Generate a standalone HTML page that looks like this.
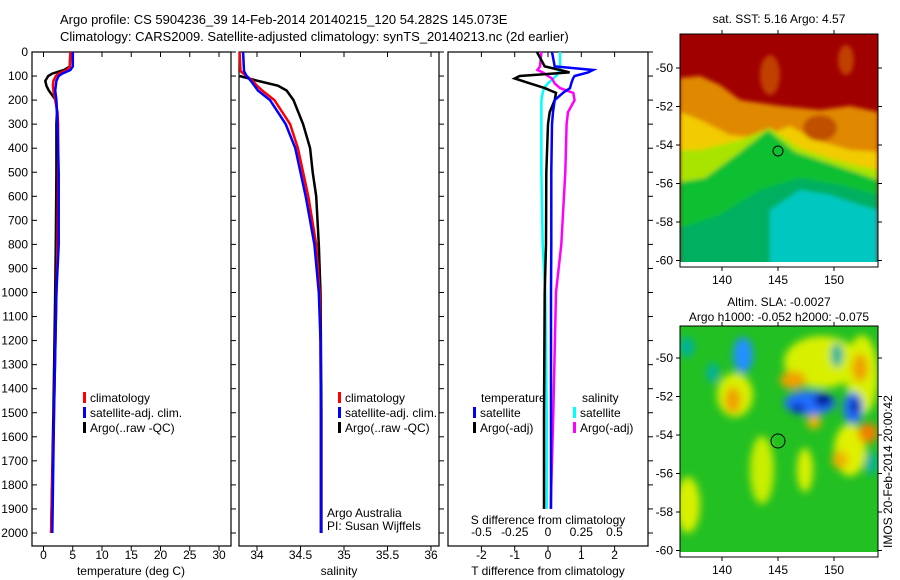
<!DOCTYPE html>
<html><head><meta charset="utf-8"><style>
html,body{margin:0;padding:0;background:#fff;}
svg{display:block;font-family:"Liberation Sans",sans-serif;}
text{font-size:12px;fill:#000;}
</style></head><body>
<svg id="fig" width="900" height="580" viewBox="0 0 900 580" xmlns="http://www.w3.org/2000/svg">
<defs>
<filter id="blur2" x="-20%" y="-20%" width="140%" height="140%"><feGaussianBlur stdDeviation="2"/></filter>
<filter id="blur4" x="-30%" y="-30%" width="160%" height="160%"><feGaussianBlur stdDeviation="4"/></filter>
<clipPath id="clipA"><rect x="680" y="34" width="198" height="233"/></clipPath>
<clipPath id="clipB"><rect x="680" y="326" width="198" height="231"/></clipPath>
</defs>
<text x="60" y="24" style="font-size:13px">Argo profile: CS 5904236_39 14-Feb-2014 20140215_120 54.282S 145.073E</text>
<text x="60" y="41" style="font-size:13px">Climatology: CARS2009. Satellite-adjusted climatology: synTS_20140213.nc (2d earlier)</text>

<!-- SST map -->
<g clip-path="url(#clipA)">
<rect x="680" y="34" width="198" height="233" fill="#a00000"/>
<g filter="url(#blur2)">
<polygon fill="#e08800" points="680,78 700,76 720,85 740,100 780,106 820,110 850,106 878,112 878,270 680,270"/>
<polygon fill="#f2cc00" points="680,112 700,120 730,135 760,138 790,126 815,140 850,150 878,152 878,270 680,270"/>
<polygon fill="#a8e400" points="680,150 700,150 740,140 770,128 800,148 830,158 855,165 878,170 878,270 680,270"/>
<polygon fill="#10c030" points="680,182 705,178 740,152 768,130 795,152 825,162 855,172 878,180 878,270 680,270"/>
<polygon fill="#00b060" points="680,228 720,215 760,190 800,178 840,185 878,195 878,270 680,270"/>
<polygon fill="#00c8c0" points="770,210 800,190 830,195 860,205 878,210 878,270 770,270"/>
<ellipse cx="820" cy="128" rx="17" ry="13" fill="#c05000"/>
<ellipse cx="770" cy="75" rx="10" ry="20" fill="#c04000"/>
<ellipse cx="846" cy="60" rx="8" ry="15" fill="#c04000"/>
</g>
<rect x="680" y="262" width="198" height="6" fill="#fff"/>
</g>
<rect x="680" y="34" width="198" height="233" fill="none" stroke="#000"/>
<circle cx="778" cy="151" r="5" fill="none" stroke="#000"/>
<text x="779" y="23" text-anchor="middle">sat. SST: 5.16 Argo: 4.57</text>

<!-- SLA map -->
<g clip-path="url(#clipB)">
<rect x="680" y="326" width="198" height="231" fill="#22c022"/>
<g filter="url(#blur4)">
<ellipse cx="822" cy="362" rx="38" ry="26" fill="#d8f000"/>
<ellipse cx="862" cy="375" rx="16" ry="40" fill="#d8f000"/>
<ellipse cx="688" cy="505" rx="12" ry="28" fill="#d8f000"/>
<ellipse cx="762" cy="470" rx="12" ry="34" fill="#c8ee00"/>
<ellipse cx="735" cy="395" rx="18" ry="22" fill="#d8f000"/>
<ellipse cx="850" cy="450" rx="16" ry="26" fill="#e0f000"/>
<ellipse cx="805" cy="470" rx="8" ry="22" fill="#d8f000"/>
<ellipse cx="793" cy="380" rx="13" ry="9" fill="#f0a000"/>
<ellipse cx="733" cy="400" rx="8" ry="13" fill="#f0a000"/>
<ellipse cx="860" cy="368" rx="8" ry="14" fill="#f0a000"/>
<ellipse cx="868" cy="433" rx="10" ry="10" fill="#f08000"/>
<ellipse cx="840" cy="460" rx="8" ry="9" fill="#f0b000"/>
<ellipse cx="814" cy="422" rx="7" ry="7" fill="#f0b000"/>
<ellipse cx="687" cy="347" rx="7" ry="10" fill="#00b0a0"/>
<ellipse cx="713" cy="373" rx="6" ry="10" fill="#00b0a0"/>
<ellipse cx="871" cy="463" rx="6" ry="12" fill="#00b0a0"/>
<ellipse cx="837" cy="355" rx="6" ry="12" fill="#00b0a0"/>
<ellipse cx="743" cy="355" rx="10" ry="18" fill="#2090ff"/>
<ellipse cx="810" cy="403" rx="26" ry="12" fill="#2070ff"/>
<ellipse cx="853" cy="408" rx="10" ry="16" fill="#2070ff"/>
<ellipse cx="823" cy="400" rx="9" ry="6" fill="#000090"/>
<ellipse cx="855" cy="406" rx="4" ry="8" fill="#000090"/>
<ellipse cx="798" cy="408" rx="7" ry="5" fill="#0030c0"/>
</g>
<rect x="680" y="552" width="198" height="6" fill="#fff"/>
</g>
<rect x="680" y="326" width="198" height="231" fill="none" stroke="#000"/>
<circle cx="778" cy="441" r="7" fill="none" stroke="#000"/>
<text x="779" y="306" text-anchor="middle">Altim. SLA: -0.0027</text>
<text x="779" y="321" text-anchor="middle">Argo h1000: -0.052 h2000: -0.075</text>
<text transform="translate(892,548) rotate(-90)">IMOS 20-Feb-2014 20:00:42</text>

<g id="plots"></g>
</svg>
<script>
// depth grids and profile data
const depthT = [0, 60, 75, 90, 100, 120, 140, 160, 200, 250, 300, 500, 800, 1000, 1500, 2000];
const argoT  = [4.6, 4.5, 3.5, 1.5, 0.8, 0.3, 0.5, 0.9, 2.1, 2.3, 2.2, 2.2, 2.1, 2.0, 1.7, 1.3];
const climT  = [4.6, 4.5, 4.0, 2.6, 2.1, 1.7, 1.6, 1.7, 2.0, 2.4, 2.5, 2.5, 2.4, 2.2, 1.8, 1.3];
const satT   = [5.0, 5.0, 4.6, 3.2, 2.6, 2.2, 2.1, 2.0, 2.2, 2.3, 2.4, 2.6, 2.6, 2.2, 1.8, 1.5];

const depthS = [0, 80, 100, 120, 140, 160, 200, 300, 400, 500, 600, 800, 1000, 1200, 1500, 2000];
const climS  = [33.8, 33.81, 33.88, 33.95, 34.0, 34.06, 34.2, 34.38, 34.47, 34.53, 34.59, 34.68, 34.72, 34.73, 34.735, 34.735];
const satS   = [33.84, 33.85, 33.88, 33.93, 33.97, 34.01, 34.15, 34.33, 34.44, 34.50, 34.56, 34.66, 34.71, 34.73, 34.735, 34.735];
const argoS  = [null, null, 33.8, 34.01, 34.24, 34.34, 34.42, 34.53, 34.61, 34.64, 34.68, 34.71, 34.73, 34.735, 34.74, 34.74];

const depthD = [0, 60, 75, 85, 100, 110, 130, 150, 170, 200, 250, 300, 500, 800, 1000, 1500, 1900];
const satTdiff  = [0.12, 0.2, 1.35, 1.2, 0.8, 0.75, 0.7, 0.66, 0.45, 0.2, 0.15, 0.12, 0.1, 0.1, 0.09, 0.09, 0.09];
const argoTdiff = [-0.33, -0.1, 0.36, 0.65, -0.85, -1.0, -0.55, -0.1, 0.24, 0.2, 0.05, 0.0, -0.05, -0.06, -0.1, -0.12, -0.12];
const satSdiff  = [0.09, 0.09, 0.085, 0.08, 0.06, 0.04, 0.0, -0.03, -0.04, -0.05, -0.05, -0.05, -0.05, -0.04, -0.02, -0.01, -0.01];
const argoSdiff = [-0.05, -0.06, -0.08, -0.04, 0.0, 0.03, 0.05, 0.09, 0.19, 0.2, 0.15, 0.14, 0.13, 0.1, 0.06, 0.04, 0.02];

const depthTicks = [0,100,200,300,400,500,600,700,800,900,1000,1100,1200,1300,1400,1500,1600,1700,1800,1900,2000];
const tTicks = [0,5,10,15,20,25,30];
const sTicks = [34,34.5,35,35.5,36];
const dTTicks = [-2,-1,0,1,2];
const dSTicks = [-0.5,-0.25,0,0.25,0.5];
const lonTicks = [140,145,150];
const latTicks = [-50,-52,-54,-56,-58,-60];

const NS='http://www.w3.org/2000/svg';
const root=document.getElementById('plots');
function el(tag,attrs,parent){const e=document.createElementNS(NS,tag);for(const k in attrs)e.setAttribute(k,attrs[k]);(parent||root).appendChild(e);return e;}
const yD=d=>52+d*0.2405;
const TOP=52,BOT=546;
const xT=v=>43.5+v*5.85;
const xS=v=>257+(v-34)*87;
const xDT=v=>548+v*33.3;
const xDS=v=>548+v*133;

function panel(name,x0,x1){
  const r=el('rect',{x:x0,y:TOP,width:x1-x0,height:BOT-TOP,fill:'none',stroke:'#000','stroke-width':1.2});
  
  
  depthTicks.forEach(d=>{
    const t=el('line',{x1:x1,x2:x1+5,y1:yD(d),y2:yD(d),stroke:'#000'});
    
    
  });
}
function xticks(name,vals,fx,ylab){
  vals.forEach(v=>{
    const x=fx(v);
    const a=el('line',{x1:x,x2:x,y1:BOT,y2:BOT+5,stroke:'#000'});
    
    
    const b=el('line',{x1:x,x2:x,y1:TOP,y2:TOP+5,stroke:'#000'});
    
    
    if(ylab){const t=el('text',{x:x,y:ylab,'text-anchor':'middle'});t.textContent=String(v);
      
      }
  });
}
function line(name,ds,vs,fx,color,w){
  const pts=[];ds.forEach((d,i)=>{if(vs[i]!==null)pts.push(fx(vs[i]).toFixed(1)+','+yD(d).toFixed(1));});
  const p=el('polyline',{points:pts.join(' '),fill:'none',stroke:color,'stroke-width':w});
  
  
}
function legend(name,x,y,color,label){
  const m=el('rect',{x:x,y:y-6,width:3,height:11,fill:color});
  
  
  const t=el('text',{x:x+7,y:y+4});t.textContent=label;
  
  
}
function label(name,x,y,txt,anchor){
  const t=el('text',{x:x,y:y,'text-anchor':anchor||'start'});t.textContent=txt;
  
  
}

// Panel 1 temperature
panel('temperature-panel',32,231);
depthTicks.forEach(d=>{
  const t=el('line',{x1:32,x2:37,y1:yD(d),y2:yD(d),stroke:'#000'});
  
  
  const l=el('text',{x:28,y:yD(d)+4,'text-anchor':'end'});l.textContent=String(d);
  
  
});
xticks('temperature-axis',tTicks,xT,559);
label('temperature-axis-title',131,575,'temperature (deg C)','middle');
line('argo-temperature-line',depthT,argoT,xT,'#000',2.5);
line('clim-temperature-line',depthT,climT,xT,'#f00',2.5);
line('sat-temperature-line',depthT,satT,xT,'#00f',2.5);
legend('legend-climatology-t',83,398,'#f00','climatology');
legend('legend-satellite-t',83,413,'#00f','satellite-adj. clim.');
legend('legend-argo-t',83,428,'#000','Argo(..raw -QC)');

// Panel 2 salinity
panel('salinity-panel',239,439);
xticks('salinity-axis',sTicks,xS,559);
label('salinity-axis-title',339,575,'salinity','middle');
line('argo-salinity-line',depthS,argoS,xS,'#000',2.5);
line('clim-salinity-line',depthS,climS,xS,'#f00',2.5);
line('sat-salinity-line',depthS,satS,xS,'#00f',2.5);
legend('legend-climatology-s',338,398,'#f00','climatology');
legend('legend-satellite-s',338,413,'#00f','satellite-adj. clim.');
legend('legend-argo-s',338,428,'#000','Argo(..raw -QC)');
label('argo-australia-label',327,517,'Argo Australia');
label('pi-label',327,530,'PI: Susan Wijffels');

// Panel 3 differences
panel('difference-panel',448,648);
xticks('t-diff-axis',dTTicks,xDT,559);
dSTicks.forEach(v=>{label('s-diff-tick-label',xDS(v),536,String(v),'middle');});
label('t-diff-axis-title',548,575,'T difference from climatology','middle');
label('s-diff-axis-title',548,524,'S difference from climatology','middle');
line('sat-s-diff-line',depthD,satSdiff,xDS,'#0ff',2.5);
line('argo-s-diff-line',depthD,argoSdiff,xDS,'#f0f',2.5);
line('argo-t-diff-line',depthD,argoTdiff,xDT,'#000',2.5);
line('sat-t-diff-line',depthD,satTdiff,xDT,'#00f',2.5);
label('legend-temperature-heading',481,402,'temperature');
legend('legend-sat-t-diff',473,413,'#00f','satellite');
legend('legend-argo-t-diff',473,428,'#000','Argo(-adj)');
label('legend-salinity-heading',582,402,'salinity');
legend('legend-sat-s-diff',573,413,'#0ff','satellite');
legend('legend-argo-s-diff',573,428,'#f0f','Argo(-adj)');

// Map axes
const mx=v=>722+(v-140)*11.2;
function mapAxes(name,yTop,yBot,yLat50){
  const my=v=>yLat50+(-50-v)*19.25;
  lonTicks.forEach(v=>{
    const a=el('line',{x1:mx(v),x2:mx(v),y1:yBot,y2:yBot+4,stroke:'#000'});
    
    
    const b=el('line',{x1:mx(v),x2:mx(v),y1:yTop-4,y2:yTop,stroke:'#000'});
    
    
    label(name+'-lon-label',mx(v),yBot+17,String(v),'middle');
  });
  latTicks.forEach(v=>{
    const a=el('line',{x1:676,x2:680,y1:my(v),y2:my(v),stroke:'#000'});
    
    
    const b=el('line',{x1:878,x2:882,y1:my(v),y2:my(v),stroke:'#000'});
    
    
    label(name+'-lat-label',673,my(v)+4,String(v),'end');
  });
}
mapAxes('sst-map',34,267,68);
mapAxes('sla-map',326,557,358);
</script>
</body></html>
